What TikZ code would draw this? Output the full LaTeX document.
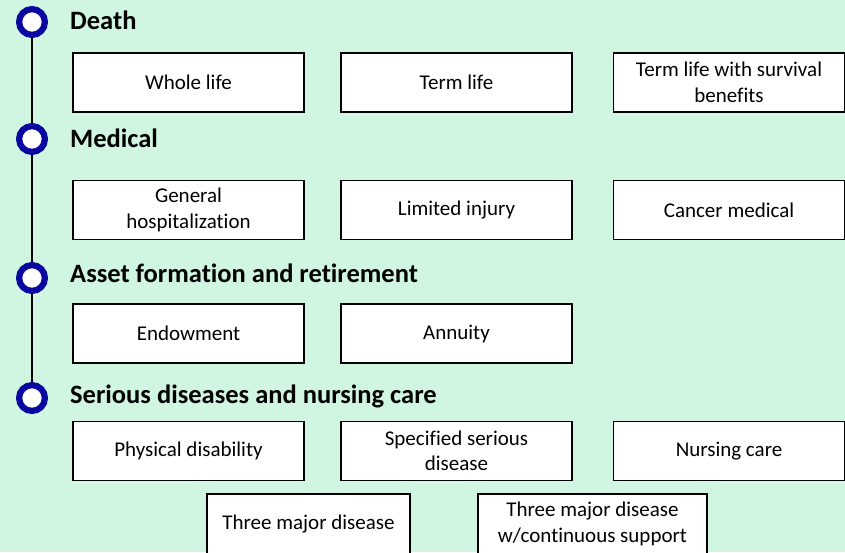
\documentclass[tikz,border=0pt]{standalone}
\usepackage{fontspec}
\setmainfont{Carlito}[Ligatures=NoCommon]
\definecolor{bg}{RGB}{208,245,225}
\definecolor{ring}{RGB}{8,8,160}
\begin{document}
\begin{tikzpicture}[x=1pt,y=-1pt,
  item/.style={draw=black, line width=1.5pt, fill=white, rectangle,
    minimum width=231pt, minimum height=59pt, align=center,
    font=\fontsize{21}{25.5}\selectfont, inner sep=0pt},
  head/.style={anchor=base west, inner sep=0pt,
    font=\fontsize{26.5}{31}\selectfont\bfseries},
  dot/.style={circle, draw=ring, line width=6.2pt, fill=white,
    minimum size=25.8pt, inner sep=0pt}]
\useasboundingbox (0,0) rectangle (845,552);
\clip (0,0) rectangle (845,552);
\fill[bg] (0,0) rectangle (845,552);

% timeline
\coordinate (p1) at (32,22);
\coordinate (p4) at (32,398);
\draw[line width=1.5pt] (p1) -- (p4);
\node[dot] (c1) at (32,22) {};
\node[dot] (c2) at (32,139) {};
\node[dot] (c3) at (32,278) {};
\node[dot] (c4) at (32,398) {};

% headings
\node[head] (h1) at (70,29) {Death};
\node[head] (h2) at (70,147) {Medical};
\node[head] (h3) at (70,282) {Asset formation and retirement};
\node[head] (h4) at (70,403) {Serious diseases and nursing care};

% row 1
\node[item] (b11) at (188.5,82.5) {Whole life};
\node[item] (b12) at (456.5,82.5) {Term life};
\node[item] (b13) at (729,82.5) {Term life with survival\\benefits};
% row 2
\node[item] (b21) at (188.5,210) {General\\hospitalization};
\node[item] (b22) at (456.5,210) {Limited injury};
\node[item] (b23) at (729,210) {Cancer medical};
% row 3
\node[item] (b31) at (188.5,333.5) {Endowment};
\node[item] (b32) at (456.5,333.5) {Annuity};
% row 4
\node[item] (b41) at (188.5,451) {Physical disability};
\node[item] (b42) at (456.5,451) {Specified serious\\disease};
\node[item] (b43) at (729,451) {Nursing care};
% row 5
\node[item, minimum width=203pt, minimum height=60pt] (b51) at (308.5,524) {Three major disease};
\node[item, minimum width=229pt, minimum height=60pt] (b52) at (592.5,524) {Three major disease\\w/continuous support};
\end{tikzpicture}
\end{document}
